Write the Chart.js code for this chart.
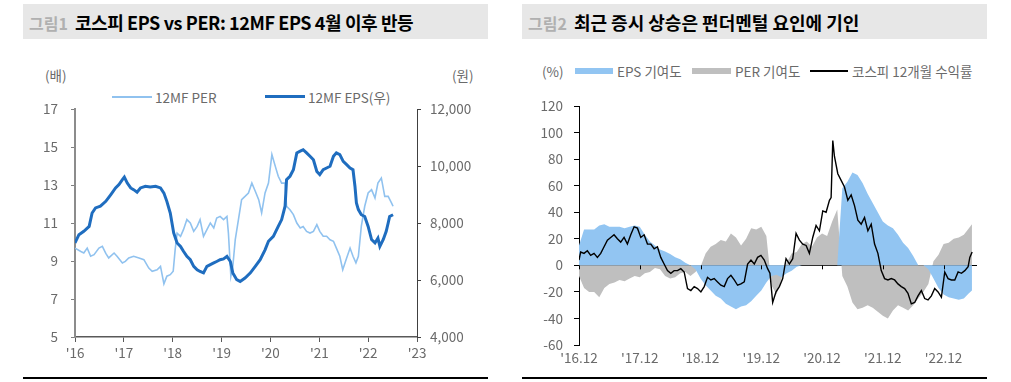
<!DOCTYPE html>
<html>
<head>
<meta charset="utf-8">
<script src="https://cdn.jsdelivr.net/npm/chart.js@4.4.1/dist/chart.umd.min.js"></script>
<style>
  body { margin: 0; width: 1011px; height: 382px; background: #fff; position: relative; overflow: hidden;
         font-family: "Noto Sans CJK KR", "Noto Sans", sans-serif; }
  .bar { position: absolute; top: 4px; height: 35px; width: 465px; background: #e7e7e7; }
  .bar .t { position: absolute; left: 6px; top: 5px; font-size: 18px; font-weight: bold; color: #000; white-space: nowrap; }
  .bar .no { color: #b0b0b0; font-size: 16px; margin-right: 7px; letter-spacing: 0; }
  .rule { position: absolute; top: 377px; height: 2px; width: 465px; background: #000; }
  .box { position: absolute; }
  .lbl { position: absolute; font-size: 13.5px; color: #6a6a6a; white-space: nowrap; line-height: 16px; }
  .sw { position: absolute; }
</style>
</head>
<body>

<div class="bar" style="left:23px"><div class="t" style="letter-spacing:-0.4px"><span class="no">그림1</span>코스피 EPS vs PER: 12MF EPS 4월 이후 반등</div></div>
<div class="bar" style="left:522px"><div class="t"><span class="no">그림2</span>최근 증시 상승은 펀더멘털 요인에 기인</div></div>

<!-- left chart labels / legend -->
<div class="lbl" style="left:45px;top:67px">(배)</div>
<div class="lbl" style="left:452px;top:67px">(원)</div>
<div class="sw" style="left:112px;top:96px;width:40px;height:2px;background:#90c2ef"></div>
<div class="lbl" style="left:155px;top:89px">12MF PER</div>
<div class="sw" style="left:265px;top:95px;width:40px;height:3px;background:#1f6dbf"></div>
<div class="lbl" style="left:308px;top:89px">12MF EPS(우)</div>

<!-- right chart labels / legend -->
<div class="lbl" style="left:542px;top:63px">(%)</div>
<div class="sw" style="left:575px;top:68px;width:38px;height:6px;background:#92c5f2"></div>
<div class="lbl" style="left:617px;top:63px">EPS 기여도</div>
<div class="sw" style="left:692px;top:68px;width:39px;height:6px;background:#bfbfbf"></div>
<div class="lbl" style="left:735px;top:63px">PER 기여도</div>
<div class="sw" style="left:810px;top:70px;width:38px;height:1.5px;background:#000"></div>
<div class="lbl" style="left:852px;top:63px">코스피 12개월 수익률</div>

<div class="box" style="left:20px;top:40px"><canvas id="c1" width="470" height="332"></canvas></div>
<div class="box" style="left:520px;top:40px"><canvas id="c2" width="470" height="335"></canvas></div>

<div class="rule" style="left:23px"></div>
<div class="rule" style="left:522px"></div>

<script>
// ---------- 그림1 : 12MF PER (left axis) / 12MF EPS (right axis) ----------
const yearTicks = [2016, 2017, 2018, 2019, 2020, 2021, 2022, 2023];

const perX = [2016.00, 2016.12, 2016.18, 2016.25, 2016.32, 2016.39, 2016.49, 2016.56, 2016.63, 2016.69,
  2016.80, 2016.86, 2016.97, 2017.03, 2017.10, 2017.20, 2017.31, 2017.41, 2017.51, 2017.58,
  2017.68, 2017.75, 2017.82, 2017.88, 2017.95, 2018.01, 2018.05, 2018.09, 2018.16, 2018.22,
  2018.29, 2018.36, 2018.43, 2018.50, 2018.56, 2018.63, 2018.70, 2018.77, 2018.84, 2018.90,
  2018.97, 2019.04, 2019.11, 2019.14, 2019.19, 2019.23, 2019.28, 2019.35, 2019.41, 2019.48,
  2019.55, 2019.62, 2019.69, 2019.76, 2019.82, 2019.89, 2019.96, 2020.03, 2020.10, 2020.16,
  2020.23, 2020.30, 2020.33, 2020.40, 2020.47, 2020.54, 2020.61, 2020.67, 2020.74, 2020.81,
  2020.88, 2020.95, 2021.01, 2021.08, 2021.15, 2021.22, 2021.29, 2021.35, 2021.42, 2021.48,
  2021.56, 2021.63, 2021.69, 2021.75, 2021.80, 2021.86, 2021.93, 2022.00, 2022.07, 2022.14,
  2022.20, 2022.27, 2022.34, 2022.41, 2022.48, 2022.51];
const perValues = [9.68, 9.50, 9.42, 9.68, 9.25, 9.33, 9.68, 9.77, 9.40, 9.16,
  9.42, 9.25, 8.90, 8.98, 9.16, 9.25, 9.16, 9.07, 8.63, 8.46,
  8.54, 8.72, 7.80, 8.20, 8.28, 8.46, 9.60, 10.47, 10.30, 10.65,
  11.18, 11.00, 10.56, 10.82, 11.18, 10.30, 10.65, 11.00, 10.74, 11.26,
  11.35, 11.18, 11.35, 10.47, 8.20, 8.72, 10.12, 11.26, 12.23, 12.40,
  12.58, 13.10, 12.67, 12.23, 11.53, 12.58, 13.10, 14.60, 13.98, 13.46,
  13.10, 13.10, 11.88, 11.70, 11.44, 11.00, 10.74, 10.82, 10.56, 10.47,
  10.56, 10.91, 10.56, 10.30, 10.30, 10.12, 10.04, 9.68, 9.25, 8.54,
  9.16, 9.68, 9.25, 8.90, 9.25, 10.82, 11.88, 12.58, 12.75, 12.32,
  13.10, 13.37, 12.40, 12.40, 12.05, 11.88];

const epsX = [2016.00, 2016.08, 2016.18, 2016.29, 2016.35, 2016.42, 2016.52, 2016.63, 2016.73, 2016.83,
  2016.90, 2016.97, 2017.01, 2017.07, 2017.14, 2017.20, 2017.27, 2017.34, 2017.44, 2017.54,
  2017.65, 2017.75, 2017.82, 2017.88, 2017.95, 2018.02, 2018.09, 2018.16, 2018.22, 2018.29,
  2018.36, 2018.43, 2018.50, 2018.56, 2018.63, 2018.70, 2018.77, 2018.84, 2018.90, 2018.97,
  2019.04, 2019.11, 2019.18, 2019.23, 2019.31, 2019.38, 2019.48, 2019.59, 2019.69, 2019.79,
  2019.89, 2019.96, 2020.06, 2020.16, 2020.23, 2020.30, 2020.33, 2020.40, 2020.47, 2020.54,
  2020.61, 2020.67, 2020.74, 2020.81, 2020.88, 2020.95, 2021.01, 2021.08, 2021.15, 2021.22,
  2021.29, 2021.35, 2021.42, 2021.49, 2021.56, 2021.63, 2021.69, 2021.73, 2021.76, 2021.80,
  2021.86, 2021.93, 2022.00, 2022.07, 2022.14, 2022.20, 2022.24, 2022.31, 2022.37, 2022.41,
  2022.44, 2022.51];
const epsValues = [7300, 7590, 7710, 7880, 8350, 8530, 8590, 8760, 8990, 9230,
  9350, 9520, 9610, 9400, 9230, 9170, 9080, 9230, 9290, 9260,
  9290, 9230, 9050, 8760, 8350, 7650, 7300, 7180, 7010, 6830,
  6710, 6480, 6360, 6300, 6250, 6480, 6540, 6600, 6650, 6710,
  6740, 6830, 6650, 6250, 6010, 5950, 6070, 6250, 6480, 6710,
  7060, 7360, 7530, 7880, 8120, 8590, 9520, 9640, 9870, 10460,
  10520, 10570, 10460, 10340, 10220, 9810, 9700, 9870, 9930, 9990,
  10340, 10460, 10400, 10160, 10050, 9930, 9870, 9290, 8700, 8470,
  8290, 8230, 7880, 7420, 7300, 7470, 7180, 7420, 7710, 8000,
  8230, 8290];

// ---------- 그림2 : EPS / PER 기여도 (monthly from '16.12) + 코스피 12개월 수익률 ----------
const monthTicks = [0, 12, 24, 36, 48, 60, 72];
const monthTickLabels = ["'16.12", "'17.12", "'18.12", "'19.12", "'20.12", "'21.12", "'22.12"];

const areaMonths = [0, 1, 2, 3, 4, 5, 6, 7, 8, 9, 10, 11, 12, 13, 14, 15, 16, 17, 18, 19,
  20, 21, 22, 23, 24, 25, 26, 27, 28, 29, 30, 31, 32, 33, 34, 35, 36, 37, 38, 39,
  40, 41, 42, 43, 44, 45, 46, 47, 48, 49, 50, 51, 52, 53, 54, 55, 56, 57, 58, 59,
  60, 61, 62, 63, 64, 65, 66, 67, 68, 69, 70, 71, 72, 73, 74, 75, 76, 77, 77.6];
const epsContrib = [15, 27, 27, 27, 30, 31, 29, 29, 29, 28, 29, 30, 29, 23, 18, 15, 12, 10.5, 8.5, 6,
  4.5, 2, 0, -3, -10, -15, -19, -23, -25, -29, -31, -33, -31, -30, -27, -23, -19, -13, -8, -7,
  -9, -6, -4, -1, 0, 0, 0, 0, 0, 0, 0, 0, 58, 63, 70, 68, 62, 54, 47, 40,
  33, 30, 28, 23, 17, 13, 7, 0, 0, -3, -10, -17, -22, -24, -25, -26, -25, -21, -19];
const perContrib = [-8, -17, -20, -20, -24, -17, -14, -13, -11, -12, -10, -8, -9, -6, -5, -2, -3, -8, -10, -9,
  -6, -5, -8, -5, -1, 9, 14, 16, 19, 18, 24, 21, 15, 20, 28, 27, 29, 22, -15, -22,
  -10, 2, 9, 10, 16, 18, 14, 21, 24, 22, 33, 42, -8, -16, -28, -33, -32, -30, -32, -35,
  -38, -40, -34, -30, -32, -34, -30, -25, -20, -14, 3, 8, 16, 17, 20, 21, 23, 28, 31];

const retMonths = [0, 0.33, 0.99, 1.65, 2.31, 2.97, 3.63, 4.29, 4.95, 5.61,
  6.26, 6.92, 7.58, 8.24, 8.90, 9.56, 10.22, 10.88, 11.54, 12.20,
  12.86, 13.52, 14.18, 14.84, 15.49, 16.15, 16.81, 17.47, 18.13, 18.79,
  19.45, 20.11, 20.77, 21.43, 22.09, 22.75, 23.41, 24.07, 24.73, 25.38,
  26.04, 26.70, 27.36, 28.02, 28.68, 29.34, 30.00, 30.66, 31.32, 31.98,
  32.64, 33.30, 33.96, 34.62, 35.27, 35.93, 36.59, 37.25, 37.71, 38.25,
  38.91, 39.57, 40.23, 40.89, 41.55, 42.21, 42.87, 43.53, 44.19, 44.85,
  45.50, 46.16, 46.82, 47.48, 48.14, 48.80, 49.46, 49.79, 50.12, 50.45,
  51.11, 51.77, 52.43, 53.09, 53.75, 54.41, 55.07, 55.73, 56.39, 57.05,
  57.71, 58.37, 59.03, 59.69, 60.35, 61.01, 61.67, 62.33, 62.99, 63.65,
  64.31, 64.97, 65.63, 66.29, 66.95, 67.61, 68.27, 68.93, 69.59, 70.25,
  70.91, 71.57, 72.23, 72.89, 73.55, 74.21, 74.87, 75.53, 76.19, 76.85,
  77.18, 77.64];
const kospiReturn = [4, 10, 9, 11, 7.5, 9, 6, 9, 14, 19,
  21, 23, 20, 17.5, 21, 16, 23, 29, 28, 21,
  23, 16, 16, 12.5, 14, 6, 1, -4, -6, -4,
  -4, -2.5, -5, -17.5, -19, -16, -17.5, -20, -16, -9,
  -11, -10, -12.5, -15, -16, -10, -7.5, -11, -15, -14,
  -12.5, 1, 4, 1, 6, 7.5, 4, -2.5, -6, -28,
  -20, -16, -10, 5, 1, 5, 24, 19, 16, 15,
  9, 21, 30, 26, 41, 40, 49, 51, 94, 82,
  69, 64, 59, 49, 53, 45, 34, 31, 36, 26,
  31, 16, 9, -4, -10, -11, -10, -11, -14, -16,
  -17.5, -21, -29, -28, -23, -19, -25, -26, -23, -17.5,
  -20, -24, -5, -10, -11, -11, -5, -6, -4, -1,
  6, 10];

const toPoints = (xs, ys) => xs.map((x, i) => ({ x: x, y: ys[i] }));

const tickFont = { family: "'Noto Sans CJK KR', 'Noto Sans', sans-serif", size: 13.5 };
const tickColor = '#6a6a6a';

// fixed axis sizes so the plot areas sit where the reference has them
function fixWidth(w) { return scale => { scale.width = w; }; }
function fixHeight(h) { return scale => { scale.height = h; }; }

new Chart(document.getElementById('c1'), {
  type: 'line',
  data: {
    datasets: [
      {
        label: '12MF EPS(우)',
        data: toPoints(epsX, epsValues),
        yAxisID: 'y1',
        borderColor: '#1f6dbf',
        borderWidth: 3,
        pointRadius: 0,
        tension: 0
      },
      {
        label: '12MF PER',
        data: toPoints(perX, perValues),
        yAxisID: 'y',
        borderColor: '#90c2ef',
        borderWidth: 1.6,
        pointRadius: 0,
        tension: 0
      }
    ]
  },
  options: {
    responsive: false,
    animation: false,
    devicePixelRatio: 1,
    layout: { padding: { top: 69, bottom: 0, left: 0, right: 0 } },
    plugins: { legend: { display: false }, tooltip: { enabled: false } },
    scales: {
      x: {
        type: 'linear',
        min: 2016,
        max: 2023,
        afterBuildTicks: scale => { scale.ticks = yearTicks.map(v => ({ value: v })); },
        afterFit: fixHeight(35),
        ticks: { font: tickFont, color: tickColor, padding: 3, maxRotation: 0,
                 callback: v => "'" + String(v).slice(2) },
        grid: { drawOnChartArea: false, drawTicks: true, tickLength: 5, color: '#595959' },
        border: { color: '#595959', width: 1.5 }
      },
      y: {
        position: 'left',
        min: 5,
        max: 17,
        afterBuildTicks: scale => { scale.ticks = [5, 7, 9, 11, 13, 15, 17].map(v => ({ value: v })); },
        afterFit: fixWidth(55),
        ticks: { font: tickFont, color: tickColor, padding: 13 },
        grid: { drawOnChartArea: false, tickLength: 4, color: '#7f7f7f' },
        border: { color: '#8c8c8c', width: 2 }
      },
      y1: {
        position: 'right',
        min: 4000,
        max: 12000,
        afterBuildTicks: scale => { scale.ticks = [4000, 6000, 8000, 10000, 12000].map(v => ({ value: v })); },
        afterFit: fixWidth(73),
        ticks: { font: tickFont, color: tickColor, padding: 9,
                 callback: v => v.toLocaleString('en-US') },
        grid: { drawOnChartArea: false, tickLength: 4, color: '#404040' },
        border: { color: '#404040', width: 1 }
      }
    }
  }
});

// small year tick marks hanging under the zero line
const zeroTicks = {
  id: 'zeroTicks',
  afterDatasetsDraw(chart) {
    const ctx = chart.ctx;
    const xs = chart.scales.x;
    const y0 = chart.scales.y.getPixelForValue(0);
    ctx.save();
    ctx.strokeStyle = '#000';
    ctx.lineWidth = 1;
    monthTicks.forEach(m => {
      const px = Math.round(xs.getPixelForValue(m)) + 0.5;
      ctx.beginPath();
      ctx.moveTo(px, y0);
      ctx.lineTo(px, y0 + 4);
      ctx.stroke();
    });
    ctx.restore();
  }
};

new Chart(document.getElementById('c2'), {
  type: 'line',
  data: {
    datasets: [
      {
        label: '코스피 12개월 수익률',
        data: toPoints(retMonths, kospiReturn),
        borderColor: '#000',
        borderWidth: 1.4,
        pointRadius: 0,
        fill: false,
        tension: 0
      },
      {
        label: 'EPS 기여도',
        data: toPoints(areaMonths, epsContrib),
        borderWidth: 0,
        borderColor: 'rgba(0,0,0,0)',
        backgroundColor: '#92c5f2',
        pointRadius: 0,
        fill: 'origin',
        tension: 0
      },
      {
        label: 'PER 기여도',
        data: toPoints(areaMonths, perContrib),
        borderWidth: 0,
        borderColor: 'rgba(0,0,0,0)',
        backgroundColor: '#bfbfbf',
        pointRadius: 0,
        fill: 'origin',
        tension: 0
      }
    ]
  },
  plugins: [zeroTicks],
  options: {
    responsive: false,
    animation: false,
    devicePixelRatio: 1,
    layout: { padding: { top: 66, bottom: 0, left: 0, right: 13 } },
    plugins: { legend: { display: false }, tooltip: { enabled: false } },
    scales: {
      x: {
        type: 'linear',
        min: 0,
        max: 78.6,
        afterBuildTicks: scale => { scale.ticks = monthTicks.map(v => ({ value: v })); },
        afterFit: fixHeight(30),
        ticks: { font: tickFont, color: tickColor, padding: 5, maxRotation: 0,
                 callback: (v, i) => monthTickLabels[i] },
        grid: { display: false, drawTicks: false },
        border: { display: false }
      },
      y: {
        min: -60,
        max: 120,
        afterBuildTicks: scale => { scale.ticks = [-60, -40, -20, 0, 20, 40, 60, 80, 100, 120].map(v => ({ value: v })); },
        afterFit: fixWidth(59),
        ticks: { font: tickFont, color: tickColor, padding: 11 },
        grid: {
          tickLength: 5,
          tickColor: '#000',
          lineWidth: 1,
          color: ctx => (ctx.tick && ctx.tick.value === 0) ? '#000' : 'rgba(0,0,0,0)'
        },
        border: { color: '#000', width: 1 }
      }
    }
  }
});
</script>
</body>
</html>
